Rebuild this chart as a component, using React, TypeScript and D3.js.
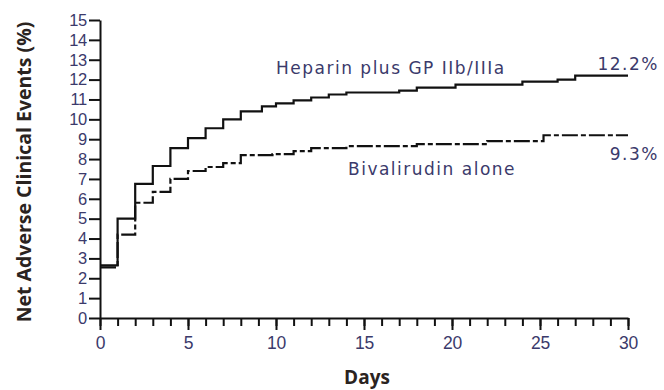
import { useEffect, useRef } from 'react';
import * as d3 from 'd3';

const heparinDays = [0, 1, 2, 3, 4, 5, 6, 7, 8, 9.2, 10, 11, 12, 13, 14, 17, 18, 20.2, 24, 26, 27, 30];
const heparinValues = [2.65, 5.0, 6.75, 7.65, 8.55, 9.05, 9.55, 10.0, 10.4, 10.65, 10.8, 10.95, 11.1, 11.25, 11.35, 11.45, 11.6, 11.75, 11.9, 12.0, 12.2, 12.2];

const bivalDays = [0, 1, 2, 3, 4, 5, 6, 7, 8, 9.8, 11, 12, 14, 18, 22, 25.2, 30];
const bivalValues = [2.55, 4.2, 5.8, 6.35, 7.0, 7.4, 7.6, 7.8, 8.2, 8.25, 8.4, 8.55, 8.65, 8.75, 8.9, 9.2, 9.2];

const yTicks = d3.range(0, 16);
const xMajorTicks = [0, 5, 10, 15, 20, 25, 30];
const xMinorTicks = d3.range(0, 31);

const seriesLabels = ['Heparin plus GP IIb/IIIa', 'Bivalirudin alone'];
const endLabels = ['12.2%', '9.3%'];

const W = 664;
const H = 390;
const TICK_FONT = "'Liberation Sans', 'DejaVu Sans', sans-serif";
const TITLE_FONT = "'Open Sans', 'DejaVu Sans', sans-serif";
const NOTE_FONT = "'DejaVu Sans', sans-serif";
const TEXT_COLOR = '#3b3a6b';
const TITLE_COLOR = '#2a2320';

export default function App() {
  const svgRef = useRef<SVGSVGElement | null>(null);

  useEffect(() => {
    const svg = d3.select(svgRef.current);
    svg.selectAll('*').remove();

    const x = d3.scaleLinear().domain([0, 30]).range([100, 628]);
    const y = d3.scaleLinear().domain([0, 15]).range([318, 20]);

    // y axis
    const yAxis = svg
      .append('g')
      .attr('transform', `translate(${x(0)},0)`)
      .call(d3.axisLeft(y).tickValues(yTicks).tickSize(11).tickSizeOuter(0).tickPadding(2));
    yAxis.select('.domain').attr('stroke', '#111').attr('stroke-width', 2);
    yAxis.selectAll('.tick line').attr('stroke', '#111').attr('stroke-width', 2);
    yAxis
      .selectAll('.tick text')
      .attr('fill', TEXT_COLOR)
      .attr('font-family', TICK_FONT)
      .attr('font-size', 16.5)
      .attr('letter-spacing', -0.3);

    // x axis, minor ticks every day
    const xMinor = svg
      .append('g')
      .attr('transform', `translate(0,${y(0)})`)
      .call(d3.axisBottom(x).tickValues(xMinorTicks).tickSize(8).tickSizeOuter(0).tickFormat(() => ''));
    xMinor.select('.domain').attr('stroke', '#111').attr('stroke-width', 2);
    xMinor.selectAll('.tick line').attr('stroke', '#111').attr('stroke-width', 2);

    const xMajor = svg
      .append('g')
      .attr('transform', `translate(0,${y(0)})`)
      .call(d3.axisBottom(x).tickValues(xMajorTicks).tickSize(12).tickSizeOuter(0).tickPadding(7));
    xMajor.select('.domain').remove();
    xMajor.selectAll('.tick line').attr('stroke', '#111').attr('stroke-width', 2);
    xMajor
      .selectAll('.tick text')
      .attr('fill', TEXT_COLOR)
      .attr('font-family', TICK_FONT)
      .attr('font-size', 17.5)
      .attr('letter-spacing', -0.3);

    const line = d3
      .line<[number, number]>()
      .x(d => x(d[0]))
      .y(d => y(d[1]))
      .curve(d3.curveStepAfter);

    const heparin = heparinDays.map((d, i) => [d, heparinValues[i]] as [number, number]);
    const bival = bivalDays.map((d, i) => [d, bivalValues[i]] as [number, number]);

    svg
      .append('path')
      .datum(bival)
      .attr('fill', 'none')
      .attr('stroke', '#111')
      .attr('stroke-width', 2.2)
      .attr('stroke-dasharray', '16,3,5,3')
      .attr('d', line);

    svg
      .append('path')
      .datum(heparin)
      .attr('fill', 'none')
      .attr('stroke', '#111')
      .attr('stroke-width', 2.2)
      .attr('d', line);

    const addText = (tx: number, ty: number, label: string, anchor: string) =>
      svg
        .append('text')
        .attr('x', tx)
        .attr('y', ty)
        .attr('text-anchor', anchor)
        .attr('fill', TEXT_COLOR)
        .attr('font-family', NOTE_FONT)
        .attr('font-size', 17)
        .attr('letter-spacing', 1.5)
        .text(label);

    addText(276, 74, seriesLabels[0], 'start');
    addText(348, 175, seriesLabels[1], 'start');
    addText(659, 70, endLabels[0], 'end');
    addText(659, 160, endLabels[1], 'end');

    svg
      .append('text')
      .attr('x', 367)
      .attr('y', 384)
      .attr('text-anchor', 'middle')
      .attr('fill', TITLE_COLOR)
      .attr('font-family', TITLE_FONT)
      .attr('font-weight', 'bold')
      .attr('font-size', 19)
      .text('Days');

    svg
      .append('text')
      .attr('transform', 'translate(31,172) rotate(-90)')
      .attr('text-anchor', 'middle')
      .attr('fill', TITLE_COLOR)
      .attr('font-family', TITLE_FONT)
      .attr('font-weight', 'bold')
      .attr('font-size', 19.5)
      .text('Net Adverse Clinical Events (%)');
  }, []);

  return (
    <svg
      ref={svgRef}
      width={W}
      height={H}
      style={{ position: 'absolute', left: 0, top: 0, background: '#fff' }}
    />
  );
}
